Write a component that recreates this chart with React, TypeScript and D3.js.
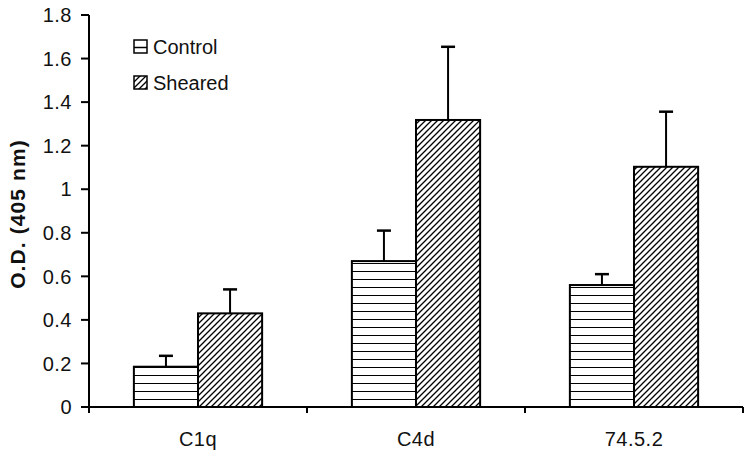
import React from "react";
import * as d3 from "d3";

const categories = ["C1q", "C4d", "74.5.2"];
const seriesNames = ["Control", "Sheared"];
const controlValues = [0.185, 0.67, 0.56];
const controlErrors = [0.05, 0.14, 0.05];
const shearedValues = [0.43, 1.318, 1.103];
const shearedErrors = [0.11, 0.336, 0.253];
const yTicks = [0, 0.2, 0.4, 0.6, 0.8, 1, 1.2, 1.4, 1.6, 1.8];

const W = 756;
const H = 460;
const margin = { left: 89, right: 13, top: 15, bottom: 53 };

export default function App() {
  const x0 = d3
    .scaleBand<string>()
    .domain(categories)
    .range([margin.left, W - margin.right])
    .paddingInner(0)
    .paddingOuter(0);
  const x1 = d3
    .scaleBand<string>()
    .domain(seriesNames)
    .range([0, x0.bandwidth()])
    .paddingInner(0)
    .paddingOuter(0.7);
  const y = d3.scaleLinear().domain([0, 1.8]).range([H - margin.bottom, margin.top]);

  const series = [
    { name: "Control", values: controlValues, errors: controlErrors, fill: "url(#horiz)" },
    { name: "Sheared", values: shearedValues, errors: shearedErrors, fill: "url(#diag)" },
  ];
  const font = "'Liberation Sans', Arial, sans-serif";
  const boundaries = [...categories.map((c) => x0(c)!), W - margin.right];

  return (
    <svg width={W} height={H} style={{ position: "absolute", left: 0, top: 0, background: "#fff" }}>
      <defs>
        <pattern id="horiz" patternUnits="userSpaceOnUse" width={8} height={8} y={y(0)}>
          <rect width={8} height={8} fill="#fff" />
          <line x1={0} x2={8} y1={0} y2={0} stroke="#000" strokeWidth={2} />
        </pattern>
        <pattern id="diag" patternUnits="userSpaceOnUse" width={6} height={6}>
          <rect width={6} height={6} fill="#fff" />
          <path d="M-1,1 l2,-2 M0,6 l6,-6 M5,7 l2,-2" stroke="#000" strokeWidth={1.3} />
        </pattern>
        <pattern id="horizLeg" patternUnits="userSpaceOnUse" width={13} height={13} x={134} y={40}>
          <rect width={13} height={13} fill="#fff" />
          <line x1={0} x2={13} y1={6.5} y2={6.5} stroke="#000" strokeWidth={1.5} />
        </pattern>
      </defs>

      {/* bars */}
      {categories.map((c, i) =>
        series.map((s) => {
          const bx = x0(c)! + x1(s.name)!;
          const bw = x1.bandwidth();
          const top = y(s.values[i]);
          const cx = bx + bw / 2;
          const et = y(s.values[i] + s.errors[i]);
          return (
            <g key={c + s.name}>
              <line x1={cx} x2={cx} y1={top} y2={et} stroke="#000" strokeWidth={2} />
              <line x1={cx - 7} x2={cx + 7} y1={et} y2={et} stroke="#000" strokeWidth={2.5} />
              <rect x={bx} y={top} width={bw} height={y(0) - top} fill={s.fill} stroke="#000" strokeWidth={2} />
            </g>
          );
        })
      )}

      {/* y axis */}
      <line x1={margin.left} x2={margin.left} y1={y(1.8)} y2={y(0)} stroke="#000" strokeWidth={2} />
      {yTicks.map((t) => (
        <g key={t}>
          <line x1={margin.left - 8} x2={margin.left} y1={y(t)} y2={y(t)} stroke="#000" strokeWidth={2} />
          <text
            x={margin.left - 17}
            y={y(t)}
            dy="0.36em"
            textAnchor="end"
            fontFamily={font}
            fontSize={20}
            letterSpacing={0.5}
            fill="#111"
          >
            {t}
          </text>
        </g>
      ))}

      {/* x axis */}
      <line x1={margin.left - 8} x2={W - margin.right} y1={y(0)} y2={y(0)} stroke="#000" strokeWidth={2} />
      {boundaries.map((b, i) => (
        <line key={i} x1={b} x2={b} y1={y(0)} y2={y(0) + 6} stroke="#000" strokeWidth={2} />
      ))}
      {categories.map((c) => (
        <text
          key={c}
          x={x0(c)! + x0.bandwidth() / 2}
          y={446}
          textAnchor="middle"
          fontFamily={font}
          fontSize={20}
          letterSpacing={0.5}
          fill="#111"
        >
          {c}
        </text>
      ))}

      {/* y label */}
      <text
        transform={`translate(25,214) rotate(-90)`}
        textAnchor="middle"
        fontFamily={font}
        fontSize={21}
        letterSpacing={1.1}
        fontWeight="bold"
        fill="#111"
      >
        O.D. (405 nm)
      </text>

      {/* legend */}
      {series.map((s, i) => (
        <g key={s.name} transform={`translate(134,${40 + i * 36})`}>
          <rect
            x={0}
            y={0}
            width={13}
            height={13}
            fill={i === 0 ? "url(#horizLeg)" : s.fill}
            stroke="#000"
            strokeWidth={1.5}
          />
          <text x={19} y={7} dy="0.36em" fontFamily={font} fontSize={20} fill="#111">
            {s.name}
          </text>
        </g>
      ))}
    </svg>
  );
}
